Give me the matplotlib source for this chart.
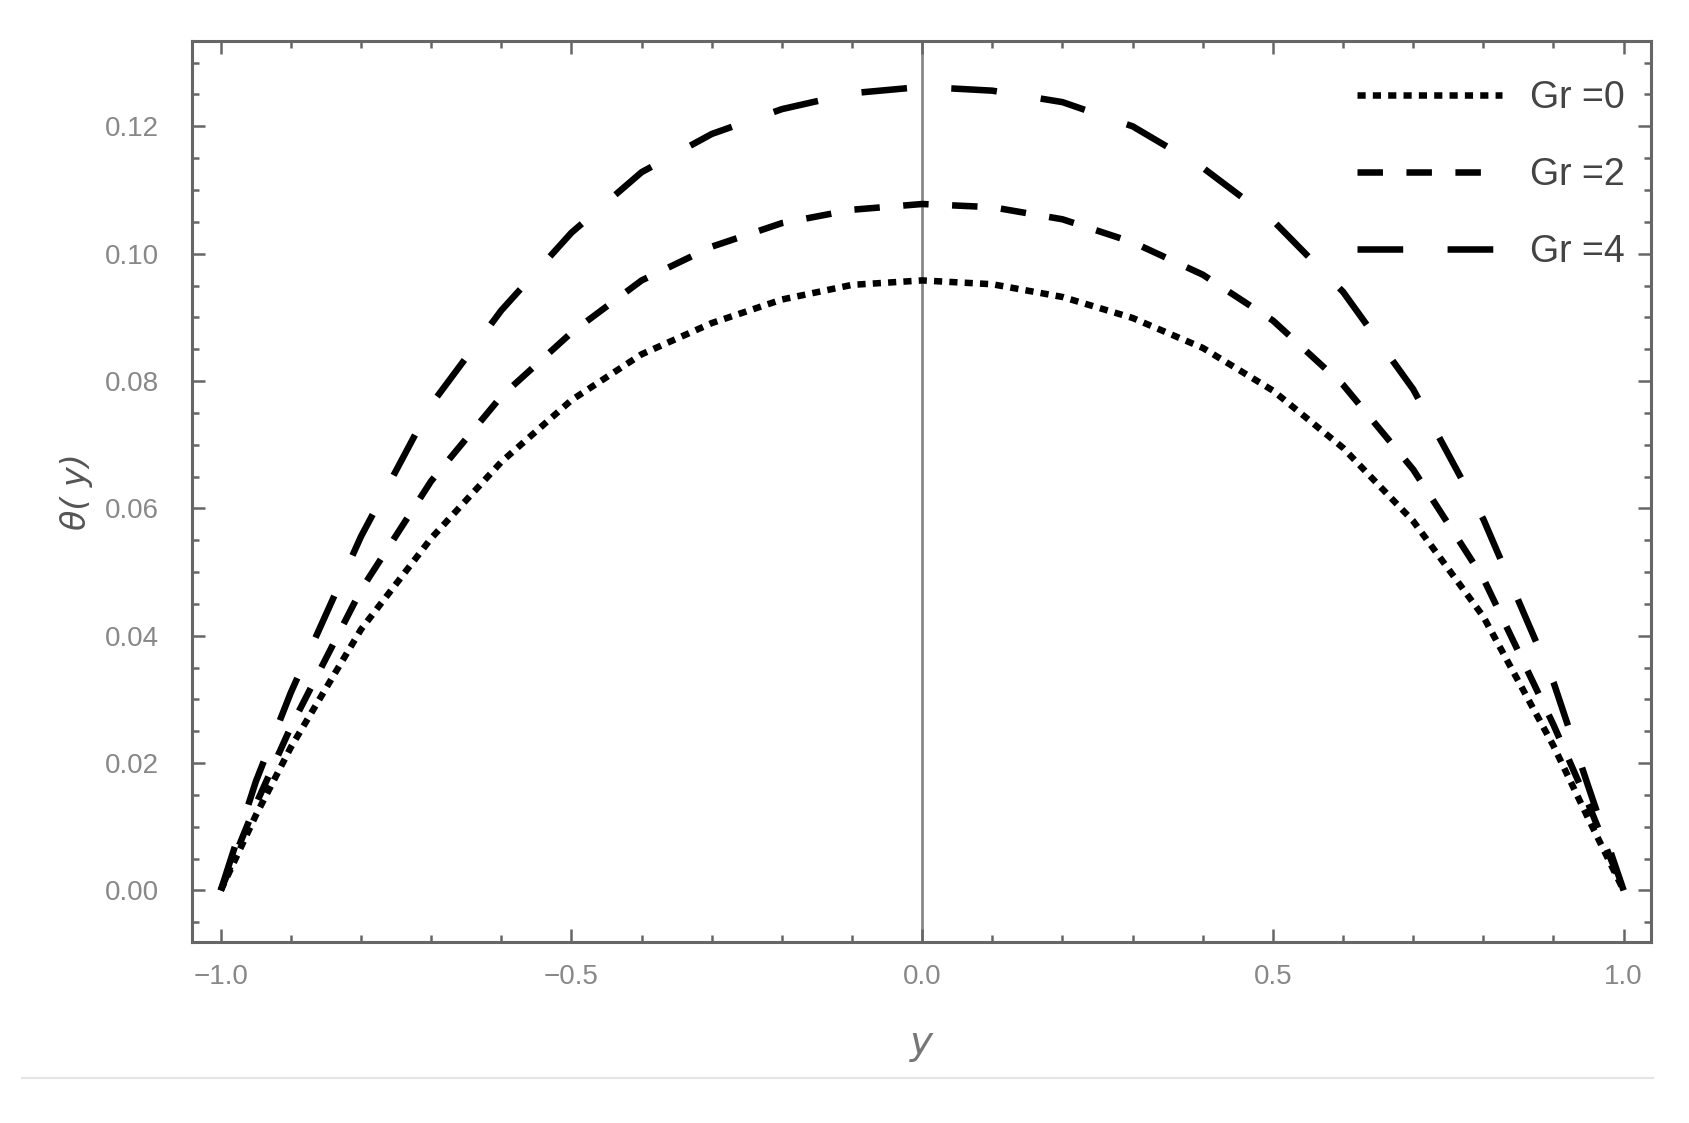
import numpy as np
import matplotlib
matplotlib.use('Agg')
import matplotlib.pyplot as plt
from matplotlib.ticker import MultipleLocator
from matplotlib.lines import Line2D

# y positions across the channel
y_pos = [-1.0, -0.95, -0.9, -0.8, -0.7, -0.6, -0.5, -0.4, -0.3, -0.2, -0.1, 0.0,
         0.1, 0.2, 0.3, 0.4, 0.5, 0.6, 0.7, 0.8, 0.9, 0.95, 1.0]

# theta(y) for each Grashof number
theta_gr0 = [0.0, 0.0118, 0.0225, 0.0410, 0.0553, 0.0673, 0.0770, 0.0842, 0.0891, 0.0928, 0.0951, 0.0958,
             0.0952, 0.0932, 0.0899, 0.0852, 0.0785, 0.0695, 0.0580, 0.0430, 0.0227, 0.0112, 0.0]
theta_gr2 = [0.0, 0.0135, 0.0257, 0.0472, 0.0643, 0.0776, 0.0876, 0.0958, 0.1011, 0.1048, 0.1069, 0.1078,
             0.1073, 0.1054, 0.1018, 0.0967, 0.0895, 0.0794, 0.0661, 0.0490, 0.0260, 0.0135, 0.0]
theta_gr4 = [0.0, 0.0171, 0.0311, 0.0556, 0.0763, 0.0911, 0.1033, 0.1128, 0.1188, 0.1227, 0.1252, 0.1262,
             0.1256, 0.1238, 0.1200, 0.1135, 0.1052, 0.0940, 0.0787, 0.0583, 0.0327, 0.0162, 0.0]

labels = ['Gr =0', 'Gr =2', 'Gr =4']
x_ticks = [-1.0, -0.5, 0.0, 0.5, 1.0]
x_ticklabels = ['\u22121.0', '\u22120.5', '0.0', '0.5', '1.0']
y_ticks = [0.00, 0.02, 0.04, 0.06, 0.08, 0.10, 0.12]

W, H = 1689, 1123
fig = plt.figure(figsize=(W / 100, H / 100), dpi=100)
ax = fig.add_axes([192 / W, 1 - 942 / H, (1651 - 192) / W, (942 - 41) / H])

lw = 4.7
ax.plot(y_pos, theta_gr0, color='black', lw=lw, linestyle=(0, (1.25, 1.1)), label=labels[0])
ax.plot(y_pos, theta_gr2, color='black', lw=lw, linestyle=(0, (3.9, 3.6)), label=labels[1])
ax.plot(y_pos, theta_gr4, color='black', lw=lw, linestyle=(0, (7.0, 6.8)), label=labels[2])

ax.axvline(0, color='#888888', lw=2.0, zorder=0)

ax.set_xlim(-1.041, 1.039)
ax.set_ylim(-0.0081, 0.1334)

ax.set_xticks(x_ticks)
ax.set_xticklabels(x_ticklabels)
ax.set_yticks(y_ticks)
ax.set_yticklabels(['%.2f' % v for v in y_ticks])
ax.xaxis.set_minor_locator(MultipleLocator(0.1))
ax.yaxis.set_minor_locator(MultipleLocator(0.005))

for s in ax.spines.values():
    s.set_color('#666666')
    s.set_linewidth(2.2)

ax.tick_params(which='both', direction='in', top=True, right=True, color='#666666', width=1.8)
ax.tick_params(which='major', length=9.5)
ax.tick_params(which='minor', length=4.8)
ax.tick_params(axis='x', which='major', pad=16, labelsize=20, labelcolor='#888888')
ax.tick_params(axis='y', which='major', pad=24, labelsize=20, labelcolor='#888888')
for t in ax.get_xticklabels() + ax.get_yticklabels():
    t.set_fontfamily('Liberation Sans')

ax.set_xlabel('y', fontsize=28, color='#777777', fontstyle='italic', labelpad=24)
ax.set_ylabel('\u03b8( y)', fontsize=24, color='#555555', fontstyle='italic', labelpad=8)

leg = ax.legend(loc='upper right', bbox_to_anchor=(0.982, 0.957), frameon=False,
                fontsize=27, handlelength=3.85, handletextpad=0.75, labelspacing=1.1,
                borderpad=0, borderaxespad=0)
for t in leg.get_texts():
    t.set_color('#444444')
    t.set_fontfamily('Liberation Sans')

# thin separator line under the chart
fig.add_artist(Line2D([22 / W, 1653 / W], [1 - 1078 / H, 1 - 1078 / H], color='#e4e4e4', lw=1.5))

fig.savefig('out.png', dpi=100)
